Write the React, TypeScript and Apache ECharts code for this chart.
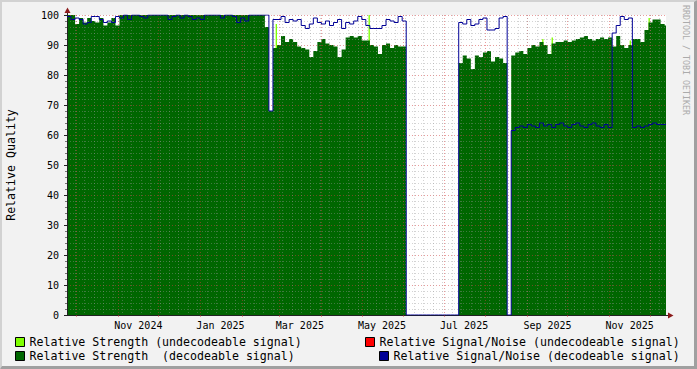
import React, { useEffect, useRef } from "react";
import * as echarts from "echarts";

// ---- time axis (one category per day) ----
const START_UTC = Date.UTC(2024, 8, 24);
const DAY_MS = 86400000;
const DAY_COUNT = 446;
const BUCKET_DAYS = 3;
const MONTH_NAMES = ["Jan", "Feb", "Mar", "Apr", "May", "Jun", "Jul", "Aug", "Sep", "Oct", "Nov", "Dec"];
const LABELED_MONTHS = [0, 2, 4, 6, 8, 10];
const LABEL_DAY = 16;

// ---- value axis ----
const Y_MIN = 0;
const Y_MAX = 100;
const Y_STEP = 10;

// ---- series names ----
const NAME_STR_UNDEC = "Relative Strength (undecodeable signal)";
const NAME_STR_DEC = "Relative Strength  (decodeable signal)";
const NAME_SNR_UNDEC = "Relative Signal/Noise (undecodeable signal)";
const NAME_SNR_DEC = "Relative Signal/Noise (decodeable signal)";

// ---- data: one value per 3-day bucket, starting 2024-09-24 ----
const STRENGTH_DECODED = [
  100, 100, 97, 99, 97.5, 99, 98, 97.5, 99, 96.5, 97.5, 99, 96.5,
  100, 100, 100, 100, 100, 100, 100, 100, 100, 100, 100, 100,
  100, 100, 100, 100, 100, 100, 100, 100, 100, 100, 100, 100,
  100, 100, 100, 100, 100, 100, 100, 100, 100, 100, 100, 100,
  96, 68,
  89, 90, 93, 91, 92, 91, 89.5, 89, 88.5, 86, 88, 91, 92, 90.5, 90, 89.5, 86,
  88.5, 92.5, 93, 92.5, 93, 91.5, 91.5, 90, 89.5, 87, 90, 90.5, 89, 90, 89.5, 89.5,
  0, 0, 0, 0, 0, 0, 0, 0, 0, 0, 0, 0, 0,
  84, 86.5, 85.5, 82, 86.5, 86, 87.5, 88, 84.5, 86, 85.5, 84,
  0,
  86.5, 87.5, 88, 87, 89, 90, 89.5, 91, 90, 87, 90.5, 91, 91, 91.5, 91, 91.5,
  92, 92.5, 93, 92, 91.5, 92, 92.5, 92, 92.5,
  89.5, 93, 90, 89, 90,
  92, 92, 91, 95, 97.5, 98.5, 98.5, 97, 96.5,
];

const SNR_DECODED = [
  99.5, 98.5, 99, 98.5, 97, 97.5, 99.5, 99.5, 98.5, 97.5, 98, 97.5, 99.5,
  99, 100, 98.5, 100, 100, 99.5, 99, 100, 100, 100, 100, 100,
  98.5, 99.5, 100, 99, 100, 99.5, 98.5, 99, 98.5, 100, 100, 100, 100,
  99, 100, 100, 99.5, 97.5, 99, 98, 100, 100, 100, 100, 100, 68,
  98.5, 98.5, 99.5, 97.5, 98.5, 98, 98.5, 96.5, 95.5, 97, 99, 97.5, 97, 98, 96.5, 97.5, 98.5,
  95.5, 97.5, 97, 98, 99.5, 98.5, 96.5, 95.5, 95.5, 95.5, 96.5, 98.5, 98, 97.5, 99.5, 98,
  0, 0, 0, 0, 0, 0, 0, 0, 0, 0, 0, 0, 0,
  97.5, 97, 98.5, 96.5, 97, 98.5, 99, 95, 95, 95.5, 99, 99.5,
  0,
  61.5, 62.5, 63, 62.5, 63.5, 63, 62.5, 64, 63, 63.5, 62.5, 63.5, 64, 63, 62.5, 63.5,
  64, 63, 62.5, 63.5, 64, 63, 62.5, 63.5, 62.5,
  94, 96.5, 99.5, 98.5, 99,
  62.5, 63, 62.5, 63, 63.5, 64, 63.5, 63.5, 63.5,
];

// undecodeable strength: only visible as a few one-day spikes (day index, value)
const STRENGTH_UNDEC_DAYS = [155, 224, 353, 360, 418, 432];
const STRENGTH_UNDEC_VALUES = [97, 100, 92, 92.5, 91.5, 99];

// undecodeable S/N: no visible values in the picture
const SNR_UNDECODED: number[] = [];

// ---- colours ----
const C_LIGHT = "#80ff00";
const C_DARK = "#006600";
const C_RED = "#ff0000";
const C_BLUE = "#000096";
const C_AXIS = "#222222";
const C_MAJOR = "rgba(210,60,60,0.5)";
const C_MINOR = "rgba(150,150,150,0.42)";
const FONT = "DejaVu Sans Mono";

const CATEGORIES: string[] = Array.from({ length: DAY_COUNT }, (_, i) =>
  new Date(START_UTC + i * DAY_MS).toISOString().slice(0, 10)
);

function parts(v: string) {
  const [y, m, d] = v.split("-").map(Number);
  return { y, m, d };
}
const isMonthStart = (_i: number, v: string) => parts(v).d === 1;
const isMonday = (_i: number, v: string) => new Date(v + "T00:00:00Z").getUTCDay() === 1;
const isLabelDay = (_i: number, v: string) => {
  const p = parts(v);
  return p.d === LABEL_DAY && LABELED_MONTHS.includes(p.m - 1);
};
const fmtLabel = (v: string) => {
  const p = parts(v);
  return `${MONTH_NAMES[p.m - 1]} ${p.y}`;
};

function bucketPoints(vals: number[]) {
  const pts: (number | null)[][] = vals.map((v, i) => [i * BUCKET_DAYS, v]);
  pts.push([DAY_COUNT - 1, vals[vals.length - 1]]);
  return pts;
}
function spikePoints(days: number[], vals: number[]) {
  const pts: (number | null)[][] = [];
  days.forEach((d, k) => {
    pts.push([d, vals[k]], [d + 1, vals[k]], [d + 1, null]);
  });
  return pts;
}

export default function App() {
  const ref = useRef<HTMLDivElement>(null);
  useEffect(() => {
    if (!ref.current) return;
    const chart = echarts.init(ref.current, undefined, { renderer: "svg" });
    const legendCommon = {
      orient: "horizontal",
      padding: 0,
      itemWidth: 9,
      itemHeight: 9,
      icon: "rect",
      selectedMode: false,
      textStyle: { fontFamily: FONT, fontSize: 11.6, color: "#000" },
      itemStyle: { borderColor: "#000", borderWidth: 1 },
    };
    const option: any = {
      animation: false,
      backgroundColor: "#f2f2f2",
      grid: {
        left: 67,
        top: 15,
        width: 599,
        height: 300,
        containLabel: false,
        outerBoundsMode: "none",
        show: true,
        backgroundColor: "#ffffff",
        borderWidth: 0,
      },
      xAxis: [
        {
          type: "category",
          data: CATEGORIES,
          boundaryGap: false,
          position: "bottom",
          z: 3,
          axisLine: { show: true, onZero: false, lineStyle: { color: C_AXIS, width: 1 } },
          axisTick: { show: true, interval: isMonthStart, length: 2, lineStyle: { color: C_MAJOR } },
          axisLabel: {
            interval: isLabelDay,
            formatter: fmtLabel,
            margin: 5,
            fontFamily: FONT,
            fontSize: 10,
            color: "#000",
          },
          splitLine: { show: true, interval: isMonthStart, lineStyle: { color: C_MAJOR, type: [1, 2] } },
        },
        {
          type: "category",
          data: CATEGORIES,
          boundaryGap: false,
          position: "bottom",
          z: 3,
          axisLine: { show: false },
          axisTick: { show: false },
          axisLabel: { show: false },
          splitLine: { show: true, interval: isMonday, lineStyle: { color: C_MINOR, type: [1, 2] } },
        },
      ],
      yAxis: {
        type: "value",
        min: Y_MIN,
        max: Y_MAX,
        interval: Y_STEP,
        z: 3,
        name: "Relative Quality",
        nameLocation: "middle",
        nameRotate: 90,
        nameGap: 50,
        nameTextStyle: { fontFamily: FONT, fontSize: 11.6, color: "#000" },
        axisLine: { show: true, onZero: false, lineStyle: { color: C_AXIS, width: 1 } },
        axisTick: { show: true, length: 3, lineStyle: { color: C_AXIS } },
        minorTick: { show: true, splitNumber: 5, length: 2, lineStyle: { color: "#777" } },
        axisLabel: { margin: 8, fontFamily: FONT, fontSize: 10, color: "#000" },
        splitLine: { show: true, lineStyle: { color: C_MAJOR, type: [1, 2] } },
        minorSplitLine: { show: true, lineStyle: { color: C_MINOR, type: [1, 2] } },
      },
      legend: [
        { ...legendCommon, left: 15, top: 336, data: [{ name: NAME_STR_UNDEC, itemStyle: { color: C_LIGHT } }] },
        { ...legendCommon, left: 15, top: 350, data: [{ name: NAME_STR_DEC, itemStyle: { color: C_DARK } }] },
        { ...legendCommon, left: 365, top: 336, data: [{ name: NAME_SNR_UNDEC, itemStyle: { color: C_RED } }] },
        { ...legendCommon, left: 379, top: 350, data: [{ name: NAME_SNR_DEC, itemStyle: { color: C_BLUE } }] },
      ],
      series: [
        {
          name: NAME_STR_UNDEC,
          type: "line",
          data: spikePoints(STRENGTH_UNDEC_DAYS, STRENGTH_UNDEC_VALUES),
          showSymbol: false,
          silent: true,
          z: 1,
          itemStyle: { color: C_LIGHT },
          lineStyle: { width: 0, color: C_LIGHT },
          areaStyle: { color: C_LIGHT, opacity: 1 },
        },
        {
          name: NAME_STR_DEC,
          type: "line",
          step: "end",
          data: bucketPoints(STRENGTH_DECODED),
          showSymbol: false,
          silent: true,
          z: 2,
          itemStyle: { color: C_DARK },
          lineStyle: { width: 0, color: C_DARK },
          areaStyle: { color: C_DARK, opacity: 1 },
        },
        {
          name: NAME_SNR_UNDEC,
          type: "line",
          step: "end",
          data: SNR_UNDECODED,
          showSymbol: false,
          silent: true,
          z: 4,
          itemStyle: { color: C_RED },
          lineStyle: { width: 1, color: C_RED },
        },
        {
          name: NAME_SNR_DEC,
          type: "line",
          step: "end",
          data: bucketPoints(SNR_DECODED),
          showSymbol: false,
          silent: true,
          z: 4,
          itemStyle: { color: C_BLUE },
          lineStyle: { width: 1, color: C_BLUE },
        },
      ],
      graphic: {
        elements: [
          {
            type: "polygon",
            silent: true,
            shape: { points: [[0, 0], [697, 0], [695, 2], [2, 2], [2, 367], [0, 369]] },
            style: { fill: "#d2d2d2" },
          },
          {
            type: "polygon",
            silent: true,
            shape: { points: [[697, 0], [697, 369], [0, 369], [2, 366], [694, 366], [694, 2]] },
            style: { fill: "#a0a0a0" },
          },
          {
            type: "line",
            silent: true,
            shape: { x1: 666, y1: 315.5, x2: 669, y2: 315.5 },
            style: { stroke: C_AXIS, lineWidth: 1 },
          },
          {
            type: "line",
            silent: true,
            shape: { x1: 67.5, y1: 12, x2: 67.5, y2: 15 },
            style: { stroke: C_AXIS, lineWidth: 1 },
          },
          {
            type: "polygon",
            silent: true,
            shape: { points: [[64.5, 13], [70.5, 13], [67.5, 7.5]] },
            style: { fill: "#8b1a1a" },
          },
          {
            type: "polygon",
            silent: true,
            shape: { points: [[668, 312.5], [668, 318.5], [673.5, 315.5]] },
            style: { fill: "#8b1a1a" },
          },
          {
            type: "text",
            silent: true,
            x: 686,
            y: 60,
            rotation: -Math.PI / 2,
            style: {
              text: "RRDTOOL / TOBI OETIKER",
              font: `8.3px "${FONT}"`,
              fill: "#ababab",
              align: "center",
              verticalAlign: "middle",
            },
          },
        ],
      },
    };
    chart.setOption(option);
    return () => chart.dispose();
  }, []);
  return (
    <div
      ref={ref}
      style={{ position: "fixed", left: 0, top: 0, width: 697, height: 369 }}
    />
  );
}
